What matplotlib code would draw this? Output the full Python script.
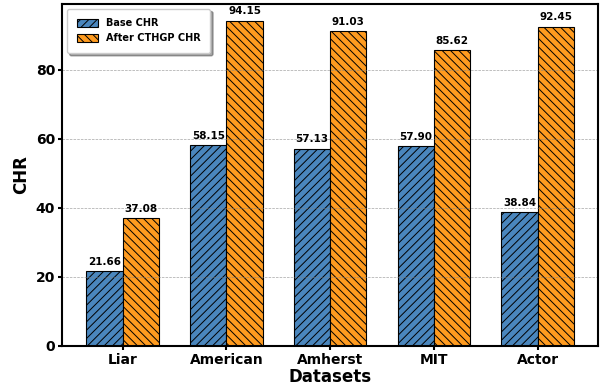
import matplotlib
matplotlib.use('Agg')
import matplotlib.pyplot as plt
import numpy as np

datasets = ['Liar', 'American', 'Amherst', 'MIT', 'Actor']
base_chr = [21.66, 58.15, 57.13, 57.90, 38.84]
after_chr = [37.08, 94.15, 91.03, 85.62, 92.45]

x = np.arange(len(datasets))
width = 0.35

plt.rcParams['hatch.linewidth'] = 0.7
fig, ax = plt.subplots(figsize=(6.08, 3.87), dpi=100)
b1 = ax.bar(x - width / 2, base_chr, width, label='Base CHR', color='#4a86bd',
            edgecolor='black', linewidth=0.8, hatch='////')
b2 = ax.bar(x + width / 2, after_chr, width, label='After CTHGP CHR', color='#ff9b1f',
            edgecolor='black', linewidth=0.8, hatch='\\\\\\\\')

for bars in (b1, b2):
    for r in bars:
        h = r.get_height()
        ax.annotate(f'{h:.2f}', (r.get_x() + r.get_width() / 2, h),
                    xytext=(0, 3), textcoords='offset points',
                    ha='center', va='bottom', fontsize=7.5, fontweight='bold')

ax.set_xticks(x)
ax.set_xticklabels(datasets, fontsize=10, fontweight='bold')
ax.set_yticks([0, 20, 40, 60, 80])
ax.set_yticklabels(['0', '20', '40', '60', '80'], fontweight='bold', fontsize=10)
ax.tick_params(length=3, width=1.5, pad=2)
ax.set_xlabel('Datasets', fontsize=12, fontweight='bold', labelpad=1)
ax.set_ylabel('CHR', fontsize=12, fontweight='bold', labelpad=4)
ax.set_ylim(0, 99)
ax.grid(True, axis='y', linestyle='--', linewidth=0.5, color='gray', alpha=0.7)
for s in ax.spines.values():
    s.set_linewidth(1.5)

leg = ax.legend(loc='upper left', prop={'weight': 'bold', 'size': 7},
                borderpad=1.0, shadow=True, fancybox=True, handlelength=2.2,
                handleheight=0.9)

fig.subplots_adjust(left=0.102, right=0.984, top=0.99, bottom=0.106)
fig.savefig('out.png')
